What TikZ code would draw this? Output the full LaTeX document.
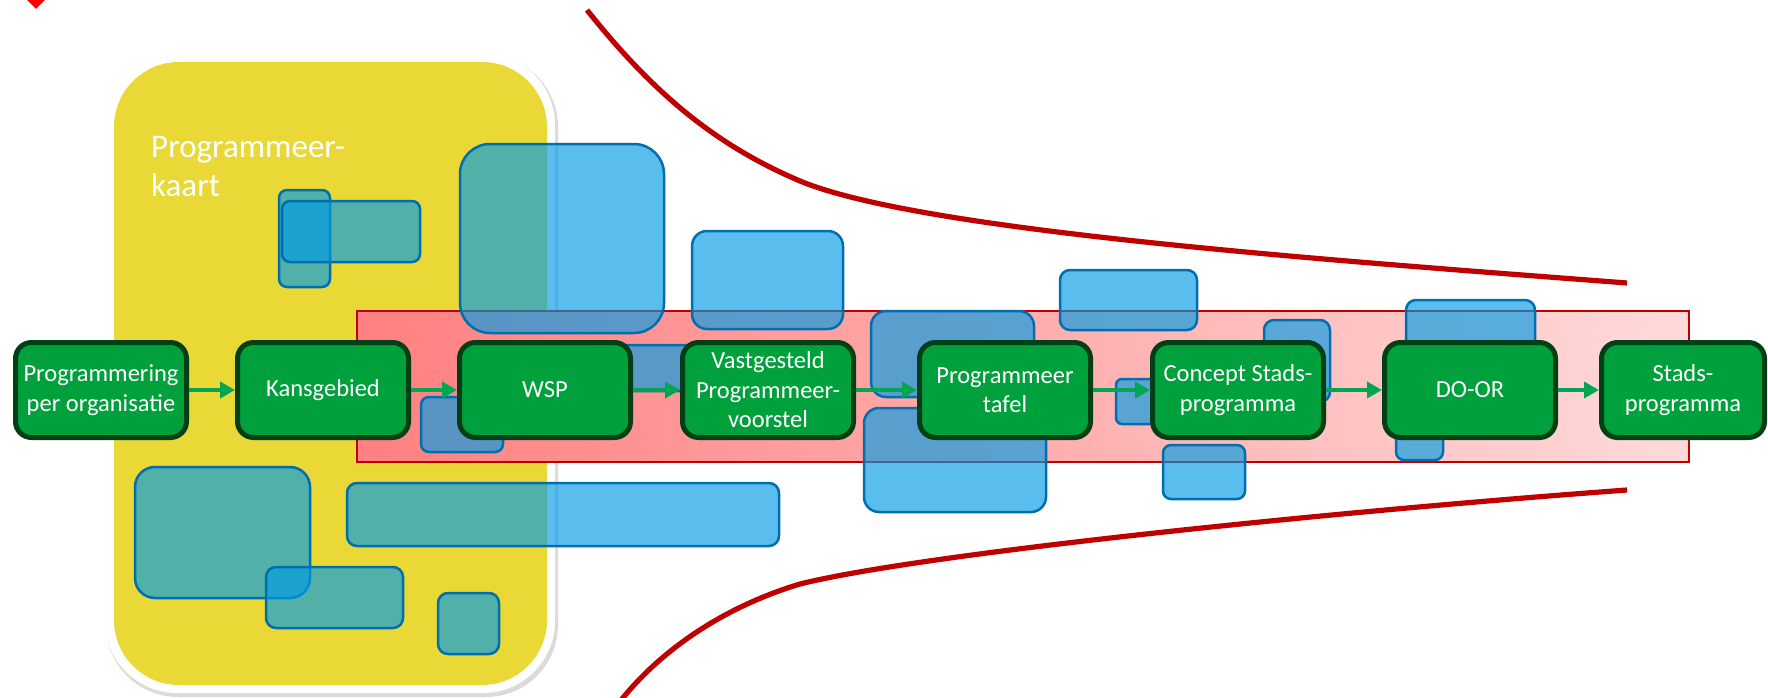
\documentclass[tikz,border=0pt]{standalone}
\usepackage{fontspec}
\setmainfont{Carlito}
\usetikzlibrary{arrows.meta}
\definecolor{yel}{RGB}{233,216,54}
\definecolor{gfill}{RGB}{0,160,60}
\definecolor{gdraw}{RGB}{0,64,20}
\definecolor{garrow}{RGB}{0,166,81}
\definecolor{bfill}{RGB}{0,156,228}
\definecolor{bdraw}{RGB}{0,110,175}
\definecolor{dred}{RGB}{192,0,0}
\definecolor{bandL}{RGB}{255,128,128}
\definecolor{bandR}{RGB}{255,218,218}
\begin{document}
\begin{tikzpicture}[x=1pt,y=-1pt,
  stepbox/.style={draw=gdraw, fill=gfill, line width=5pt, rounded corners=16pt,
    minimum width=171pt, minimum height=95pt, text=white, align=center,
    font=\fontsize{24.5}{29.5}\selectfont, inner sep=0pt},
  blu/.style={draw=bdraw, line width=2.5pt, fill=bfill, fill opacity=0.65},
  flow/.style={draw=garrow, line width=4.5pt, -{Triangle[length=15pt,width=16pt]}},
  curve/.style={draw=dred, line width=5.2pt},
]
\useasboundingbox (0,0) rectangle (1768,698);
\fill[white] (0,0) rectangle (1768,698);
% red corner mark
\fill[red] (27,0) -- (45,0) -- (36,9) -- cycle;
% yellow panel with white frame and shadow
\fill[black!14, rounded corners=72pt] (106,55) rectangle (558,697);
\fill[white, rounded corners=72pt] (105,53) rectangle (555,693);
\fill[yel, rounded corners=65pt] (114,62) rectangle (547,685);
\node[anchor=north west, align=left, text=white, inner sep=0pt,
  font=\fontsize{33}{39}\selectfont] (kaart) at (151,136) {Programmeer-\\kaart};
% red band
\shade[left color=bandL, right color=bandR] (357,311) rectangle (1689,462);
\draw[dred, line width=2pt] (357,311) rectangle (1689,462);
% blue boxes
\draw[blu, rounded corners=8pt] (279,190) rectangle (330,287);
\draw[blu, rounded corners=8pt] (282,201) rectangle (420,262);
\draw[blu, rounded corners=30pt] (460,144) rectangle (664,333);
\draw[blu, rounded corners=15pt] (692,231) rectangle (843,329);
\draw[blu, rounded corners=10pt] (605,345) rectangle (695,391);
\draw[blu, rounded corners=8pt] (421,397) rectangle (503,452);
\draw[blu, rounded corners=15pt] (871,311) rectangle (1034,397);
\draw[blu, rounded corners=15pt] (864,408) rectangle (1046,512);
\draw[blu, rounded corners=10pt] (1060,270) rectangle (1197,330);
\draw[blu, rounded corners=6pt] (1116,379) rectangle (1165,424);
\draw[blu, rounded corners=10pt] (1264,320) rectangle (1330,402);
\draw[blu, rounded corners=8pt] (1163,445) rectangle (1245,499);
\draw[blu, rounded corners=10pt] (1406,300) rectangle (1535,400);
\draw[blu, rounded corners=8pt] (1396,400) rectangle (1443,460);
\draw[blu, rounded corners=10pt] (347,483) rectangle (779,546);
\draw[blu, rounded corners=20pt] (135,467) rectangle (310,598);
\draw[blu, rounded corners=10pt] (266,567) rectangle (403,628);
\draw[blu, rounded corners=10pt] (438,593) rectangle (499,654);
% funnel curves
\coordinate (t0) at (587,10);
\coordinate (t1) at (800,181);
\coordinate (t2) at (1627,283);
\coordinate (b0) at (618,704);
\coordinate (b1) at (800,584);
\coordinate (b2) at (1627,490);
\draw[curve] (t0) .. controls (657,98) and (720,147) .. (t1)
  .. controls (920,231) and (1327,260) .. (t2);
\draw[curve] (b0) .. controls (663,646) and (730,605) .. (b1)
  .. controls (920,554) and (1327,512) .. (b2);
% process steps
\node[stepbox] (s1) at (101,390) {Programmering\\per organisatie};
\node[stepbox] (s2) at (323,390) {Kansgebied};
\node[stepbox] (s3) at (545,390) {WSP};
\node[stepbox] (s4) at (768,390) {Vastgesteld\\Programmeer-\\voorstel};
\node[stepbox] (s5) at (1005,390) {Programmeer\\tafel};
\node[stepbox] (s6) at (1238,390) {Concept Stads-\\programma};
\node[stepbox] (s7) at (1470,390) {DO-OR};
\node[stepbox, minimum width=163pt] (s8) at (1683,390) {Stads-\\programma};
\foreach \a/\b in {s1/s2,s2/s3,s3/s4,s4/s5,s5/s6,s6/s7,s7/s8}
  \draw[flow] (\a.east) -- (\b.west);
\end{tikzpicture}
\end{document}
